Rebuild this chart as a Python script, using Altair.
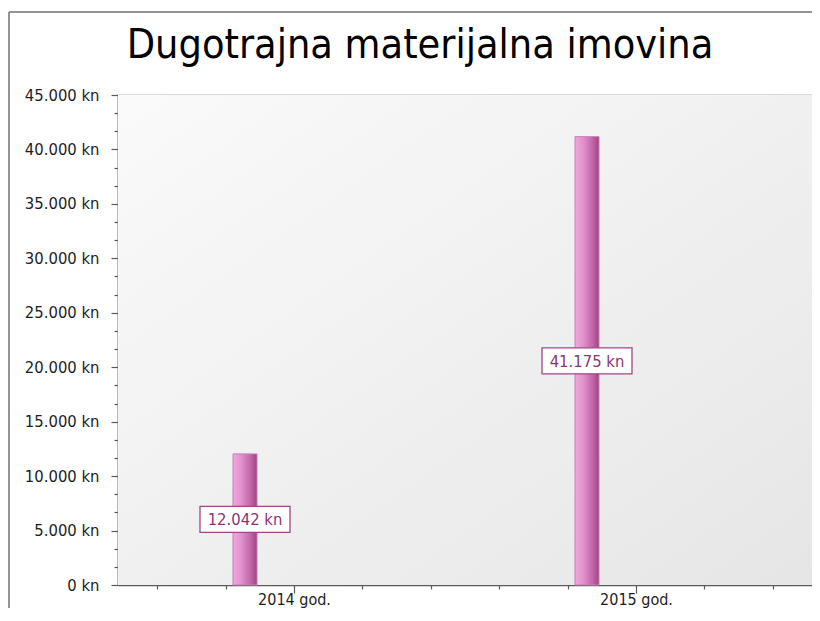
import altair as alt
import pandas as pd

# ---- data -------------------------------------------------------------
categories = ["2014 god.", "2015 god."]
values = [12042, 41175]
chart_title = "Dugotrajna materijalna imovina"
unit = " kn"

y_max = 45000
y_major_step = 5000
y_minor_per_major = 3

# ---- derived tables ---------------------------------------------------
positions = [i + 0.5 for i in range(len(categories))]
df = pd.DataFrame({"category": categories, "value": values, "pos": positions})

FONT = "DejaVu Sans Condensed, DejaVu Sans"
PURPLE = "#a0458a"
W, H = 694, 490
PAD = {"left": 110, "top": 87, "right": 0, "bottom": 23}
BAR_SHIFT = -49

# x axis ticks: 5 per category band, major one at the centre
x_tick_values = [round(0.1 + 0.2 * k, 1) for k in range(5 * len(categories))]
x_major_test = " || ".join(f"datum.value == {p}" for p in positions)
x_label_expr = " : ".join(f"datum.value == {p} ? '{c}'" for p, c in zip(positions, categories)) + " : ''"

# y axis ticks: major every 5000, minor every 5000/3
n_y = y_max // y_major_step * y_minor_per_major + 1
y_tick_values = [k * y_major_step / y_minor_per_major for k in range(n_y)]
y_major_test = f"abs(datum.value / {y_major_step} - round(datum.value / {y_major_step})) < 0.001"
fmt_expr = "replace(format(datum.value, ',.0f'), ',', '.') + '" + unit + "'"
y_label_expr = f"{y_major_test} ? {fmt_expr} : ''"

x_enc = alt.X(
    "pos:Q",
    scale=alt.Scale(domain=[0, len(categories)], nice=False, zero=False),
    axis=alt.Axis(
        values=x_tick_values,
        tickCount=len(x_tick_values),
        labelExpr=x_label_expr,
        tickSize={"condition": {"test": x_major_test, "value": 8}, "value": 4},
        labelPadding=-2,
        labelFontSize=16,
        labelOverlap=False,
        grid=False,
        title=None,
        labelAngle=0,
    ),
)
y_enc = alt.Y(
    "value:Q",
    scale=alt.Scale(domain=[0, y_max], nice=False),
    axis=alt.Axis(
        values=y_tick_values,
        tickCount=len(y_tick_values),
        labelExpr=y_label_expr,
        tickSize={"condition": {"test": y_major_test, "value": 7}, "value": 4},
        gridOpacity={"condition": {"test": y_major_test, "value": 1}, "value": 0},
        labelPadding=12,
        labelOverlap=False,
        title=None,
    ),
)

bar_gradient = alt.Gradient(
    gradient="linear",
    x1=0, x2=1, y1=0, y2=0,
    stops=[
        alt.GradientStop(color="#f4a8de", offset=0),
        alt.GradientStop(color="#e090cc", offset=0.35),
        alt.GradientStop(color="#c064a6", offset=0.75),
        alt.GradientStop(color="#a2417f", offset=1),
    ],
)
view_gradient = alt.Gradient(
    gradient="linear",
    x1=0, y1=0, x2=1, y2=1,
    stops=[
        alt.GradientStop(color="#fafafa", offset=0),
        alt.GradientStop(color="#e6e6e6", offset=1),
    ],
)

base = alt.Chart(df)

background = base.mark_rect(fill=view_gradient).encode(
    x=alt.value(0), x2=alt.value(W), y=alt.value(0), y2=alt.value(H)
)

bars = base.mark_bar(
    width=24, xOffset=BAR_SHIFT, fill=bar_gradient, stroke="#c77fb5", strokeWidth=1
).encode(x=x_enc, y=y_enc)

labelled = base.transform_calculate(
    mid="datum.value / 2",
    label="replace(format(datum.value, ',.0f'), ',', '.') + '" + unit + "'",
)

box = labelled.mark_point(
    shape="M-1,-0.289L1,-0.289L1,0.289L-1,0.289Z",
    size=8100,
    filled=True,
    fill="white",
    stroke=PURPLE,
    strokeWidth=1.3,
    opacity=1,
    xOffset=BAR_SHIFT,
).encode(x="pos:Q", y="mid:Q")

text = labelled.mark_text(
    font=FONT, fontSize=16.5, color="#8c3576", align="center", baseline="middle",
    xOffset=BAR_SHIFT, dy=1
).encode(x="pos:Q", y="mid:Q", text="label:N")

# outer chart frame (left and top edges)
frame_left = base.mark_rule(color="#8c8c8c", strokeWidth=1.5).encode(
    x=alt.value(-109), y=alt.value(-83), y2=alt.value(H + PAD["bottom"])
)
frame_top = base.mark_rule(color="#8c8c8c", strokeWidth=1.5).encode(
    x=alt.value(-109), x2=alt.value(W + PAD["right"]), y=alt.value(-83)
)

chart = (
    alt.layer(background, bars, box, text, frame_left, frame_top)
    .properties(
        width=W,
        height=H,
        padding=PAD,
        autosize=alt.AutoSizeParams(type="none"),
        title=alt.TitleParams(
            chart_title,
            font=FONT,
            fontSize=41,
            fontWeight="normal",
            color="black",
            anchor="middle",
            frame="group",
            dx=-45,
            dy=37,
            baseline="alphabetic",
            offset=-50.75,
        ),
    )
    .configure_view(stroke="#cfcfcf", strokeWidth=1.5)
    .configure_axis(
        domainColor="#5a5a5a",
        domainWidth=1.5,
        tickColor="#5a5a5a",
        tickWidth=1.2,
        labelColor="#1e1e1e",
        labelFont=FONT,
        labelFontSize=16.5,
        gridColor="#dcdcdc",
        gridWidth=1.2,
    )
)

chart.save("out.html", embed_options={"renderer": "svg", "actions": False})
